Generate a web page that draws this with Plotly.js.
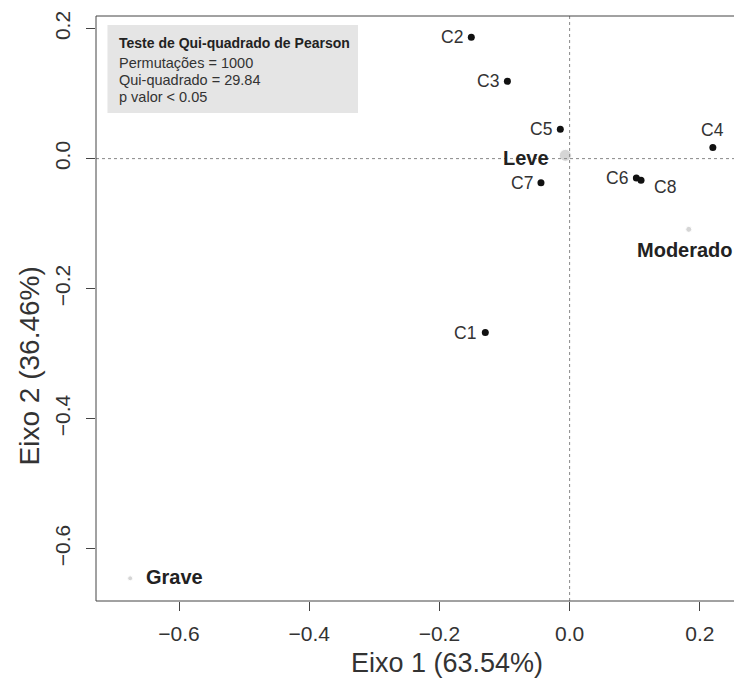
<!DOCTYPE html>
<html>
<head>
<meta charset="utf-8">
<script src="https://cdn.plot.ly/plotly-3.0.1.min.js"></script>
<style>html,body{margin:0;padding:0;background:#fff;overflow:hidden;}</style>
</head>
<body>
<div id="chart" style="width:734px;height:682px;"></div>
<script>
// Column categories (black points)
const colNames = ["C1", "C2", "C3", "C4", "C5", "C6", "C7", "C8"];
const colX = [-0.1295, -0.151, -0.0956, 0.220, -0.0143, 0.1025, -0.044, 0.1097];
const colY = [-0.2677, 0.1866, 0.119, 0.017, 0.045, -0.030, -0.037, -0.0334];

// Row categories (grey points)
const rowNames = ["Leve", "Moderado", "Grave"];
const rowX = [-0.0066, 0.183, -0.675];
const rowY = [0.005, -0.1088, -0.6457];

// Axis labels and ticks
const xTitle = "Eixo 1 (63.54%)";
const yTitle = "Eixo 2 (36.46%)";
const tickVals = [-0.6, -0.4, -0.2, 0.0, 0.2];

// Test box text
const boxTitle = "Teste de Qui-quadrado de Pearson";
const boxLines = ["Permutações = 1000", "Qui-quadrado = 29.84", "p valor < 0.05"];

// label placement styles (anchor, pixel shifts)
const colLabelStyle = [
  {xa: "right", ya: "middle", dx: -7, dy: 0},
  {xa: "right", ya: "middle", dx: -6, dy: 0},
  {xa: "right", ya: "middle", dx: -6, dy: 0},
  {xa: "center", ya: "bottom", dx: 0, dy: 6},
  {xa: "right", ya: "middle", dx: -6, dy: 0},
  {xa: "right", ya: "middle", dx: -6, dy: 0},
  {xa: "right", ya: "middle", dx: -6, dy: 0},
  {xa: "left", ya: "middle", dx: 11, dy: -7}
];
const rowLabelStyle = [
  {xa: "right", ya: "middle", dx: -14, dy: -3},
  {xa: "center", ya: "top", dx: -4, dy: -8},
  {xa: "left", ya: "middle", dx: 14, dy: 1}
];
const rowSizes = [12, 6, 5];

const FONT = "Liberation Sans, Arial, Helvetica, sans-serif";

const traces = [
  {
    type: "scatter", mode: "markers",
    x: colX, y: colY,
    marker: {color: "#111", size: 7},
    cliponaxis: false, hoverinfo: "none"
  },
  {
    type: "scatter", mode: "markers",
    x: rowX, y: rowY,
    marker: {color: "#c4c4c4", size: rowSizes},
    cliponaxis: false, hoverinfo: "none"
  }
];

const axisCommon = {
  tickvals: tickVals,
  tickformat: ".1f",
  ticks: "outside", ticklen: 9, tickwidth: 1, tickcolor: "#444",
  showgrid: false, zeroline: false, showline: false,
  tickfont: {family: FONT, size: 21, color: "#333"},
  automargin: false
};

const annotations = [];
colNames.forEach((n, i) => {
  const s = colLabelStyle[i];
  annotations.push({x: colX[i], y: colY[i], xref: "x", yref: "y", text: n, showarrow: false,
    xanchor: s.xa, yanchor: s.ya, xshift: s.dx, yshift: s.dy,
    font: {family: FONT, size: 17.5, color: "#333"}});
});
rowNames.forEach((n, i) => {
  const s = rowLabelStyle[i];
  annotations.push({x: rowX[i], y: rowY[i], xref: "x", yref: "y", text: "<b>" + n + "</b>", showarrow: false,
    xanchor: s.xa, yanchor: s.ya, xshift: s.dx, yshift: s.dy,
    font: {family: FONT, size: 20, color: "#222"}});
});
annotations.push({xref: "paper", yref: "paper", x: 0.0324, y: 0.9533, xanchor: "left", yanchor: "middle",
  text: "<b>" + boxTitle + "</b>", showarrow: false, font: {family: FONT, size: 14, color: "#222"}});
boxLines.forEach((t, i) => {
  annotations.push({xref: "paper", yref: "paper", x: 0.0324, y: [0.9191, 0.8906, 0.8621][i],
    xanchor: "left", yanchor: "middle", text: t, showarrow: false,
    font: {family: FONT, size: 14.5, color: "#333"}});
});
// axis titles
annotations.push({xref: "paper", yref: "paper", x: 0.55, y: 0, yshift: -62, xanchor: "center", yanchor: "middle",
  text: xTitle, showarrow: false, font: {family: FONT, size: 27, color: "#333"}});
annotations.push({xref: "paper", yref: "paper", x: 0, xshift: -67, y: 0.401, xanchor: "center", yanchor: "middle",
  text: yTitle, textangle: -90, showarrow: false, font: {family: FONT, size: 28, color: "#333"}});

const layout = {
  width: 734, height: 682,
  margin: {l: 96, r: 0, t: 16, b: 81},
  paper_bgcolor: "#fff", plot_bgcolor: "#fff",
  showlegend: false,
  xaxis: Object.assign({}, axisCommon, {
    range: [-0.7275, 0.2525],
    ticklabelstandoff: 5
  }),
  yaxis: Object.assign({}, axisCommon, {
    range: [-0.6806, 0.2194],
    tickangle: -90,
    ticklabelstandoff: 8
  }),
  shapes: [
    {type: "line", xref: "x", yref: "paper", x0: 0, x1: 0, y0: 0, y1: 1,
     line: {color: "#888", width: 1, dash: "dot"}},
    {type: "line", xref: "paper", yref: "y", x0: 0, x1: 1, y0: 0, y1: 0,
     line: {color: "#888", width: 1, dash: "dot"}},
    {type: "rect", xref: "paper", yref: "paper", x0: 0, x1: 1.1, y0: 0, y1: 1,
     line: {color: "#444", width: 1}, fillcolor: "rgba(0,0,0,0)", layer: "above"},
    {type: "rect", xref: "paper", yref: "paper", x0: 0.018, x1: 0.4107, y0: 0.834, y1: 0.9846,
     line: {width: 0}, fillcolor: "#e5e5e5", layer: "below"}
  ],
  annotations: annotations
};

Plotly.newPlot("chart", traces, layout, {staticPlot: true, displayModeBar: false});
</script>
</body>
</html>
